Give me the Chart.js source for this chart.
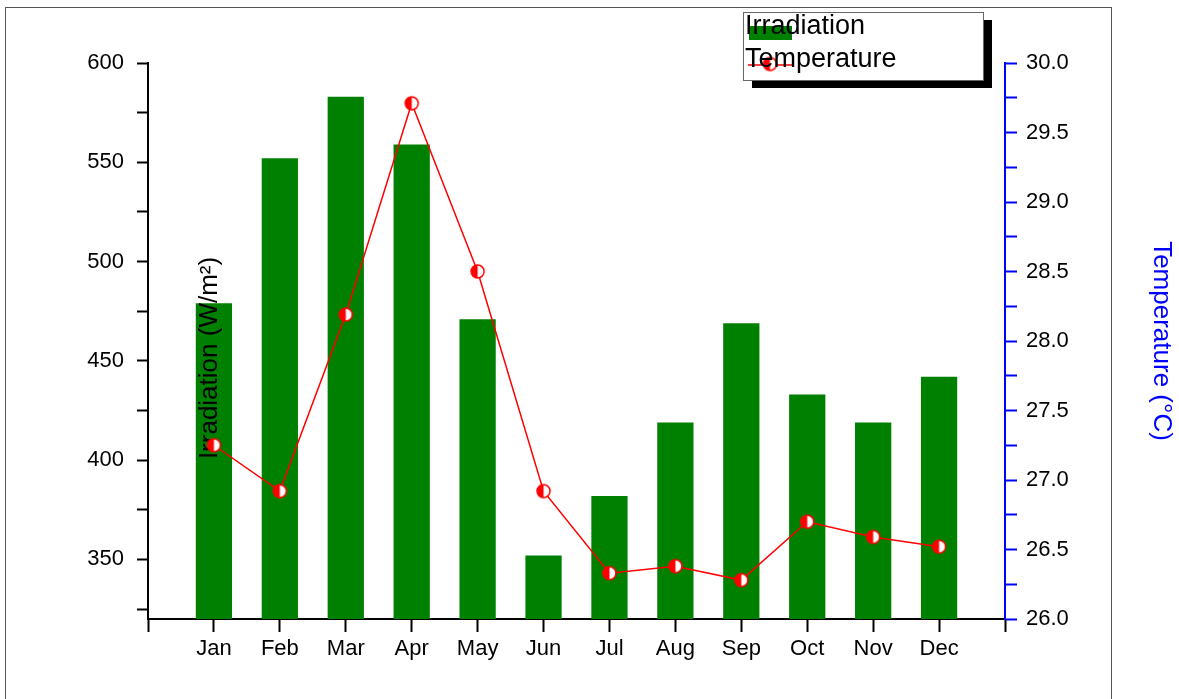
<!DOCTYPE html>
<html>
<head>
<meta charset="utf-8">
<script src="https://cdn.jsdelivr.net/npm/chart.js"></script>
<style>
  body { margin: 0; background: #fff; overflow: hidden; }
</style>
</head>
<body>
<canvas id="climateChart" width="1179" height="699"></canvas>
<script>
const months = ['Jan', 'Feb', 'Mar', 'Apr', 'May', 'Jun', 'Jul', 'Aug', 'Sep', 'Oct', 'Nov', 'Dec'];
const irradiation = [479, 552, 583, 559, 471, 352, 382, 419, 469, 433, 419, 442];
const temperature = [27.25, 26.92, 28.19, 29.71, 28.50, 26.92, 26.33, 26.38, 26.28, 26.70, 26.59, 26.52];
const irradiationTicks = [325, 350, 375, 400, 425, 450, 475, 500, 525, 550, 575, 600];
const temperatureTicks = [26.0, 26.25, 26.5, 26.75, 27.0, 27.25, 27.5, 27.75, 28.0, 28.25, 28.5, 28.75, 29.0, 29.25, 29.5, 29.75, 30.0];

const barColor = '#008000';
const lineColor = '#ff0000';
const fontFamily = '"Liberation Sans", Arial, sans-serif';

// half filled circle, like the Origin marker
function halfCircle(r) {
    const c = document.createElement('canvas');
    const s = Math.ceil(r * 2 + 4);
    c.width = s; c.height = s;
    const g = c.getContext('2d');
    const m = s / 2;
    g.fillStyle = '#fff';
    g.beginPath(); g.arc(m, m, r, 0, 2 * Math.PI); g.fill();
    g.fillStyle = lineColor;
    g.beginPath(); g.arc(m, m, r, Math.PI / 2, 3 * Math.PI / 2); g.closePath(); g.fill();
    g.strokeStyle = lineColor; g.lineWidth = 1.5;
    g.beginPath(); g.arc(m, m, r, 0, 2 * Math.PI); g.stroke();
    return c;
}
const marker = halfCircle(6.5);

// empty slot at both ends of the x axis
const xLabels = [''].concat(months, ['']);
const pad = arr => [null].concat(arr, [null]);

const framePlugin = {
    id: 'frame',
    beforeDraw(chart) {
        const ctx = chart.ctx;
        ctx.save();
        ctx.strokeStyle = '#555';
        ctx.lineWidth = 1;
        ctx.strokeRect(5.5, 7.5, 1106, 720);
        ctx.restore();
    }
};

// y title sits inside the plot, over the bars but under the line
const leftTitlePlugin = {
    id: 'leftTitle',
    afterDatasetDraw(chart, args) {
        if (chart.data.datasets[args.index].type !== 'bar') return;
        const { ctx, chartArea } = chart;
        ctx.save();
        ctx.translate(chartArea.left + 62, (chartArea.top + chartArea.bottom) / 2 + 17);
        ctx.rotate(-Math.PI / 2);
        ctx.textAlign = 'center';
        ctx.textBaseline = 'middle';
        ctx.font = '26px ' + fontFamily;
        ctx.fillStyle = '#000';
        ctx.fillText('Irradiation (W/m²)', 0, 0);
        ctx.restore();
    }
};

const legendPlugin = {
    id: 'boxLegend',
    afterDraw(chart) {
        const { ctx, chartArea } = chart;
        const w = 240, h = 68;
        const x = chartArea.right - 262, y = 12;
        const sets = chart.data.datasets;
        ctx.save();
        ctx.fillStyle = '#000';
        ctx.fillRect(x + 9, y + 8, w, h);
        ctx.fillStyle = '#fff';
        ctx.fillRect(x, y, w, h);
        ctx.strokeStyle = '#666';
        ctx.lineWidth = 1;
        ctx.strokeRect(x + 0.5, y + 0.5, w, h);

        ctx.fillStyle = sets[0].backgroundColor;
        ctx.fillRect(x + 6, y + 14, 43, 14);
        ctx.strokeStyle = sets[1].borderColor;
        ctx.lineWidth = 1.5;
        ctx.beginPath();
        ctx.moveTo(x + 5, y + 53);
        ctx.lineTo(x + 50, y + 53);
        ctx.stroke();
        ctx.drawImage(marker, x + 27 - marker.width / 2, y + 52 - marker.height / 2);

        ctx.fillStyle = '#000';
        ctx.font = '27px ' + fontFamily;
        ctx.textBaseline = 'alphabetic';
        ctx.fillText(sets[0].label, x + 2, y + 22);
        ctx.fillText(sets[1].label, x + 2, y + 55);
        ctx.restore();
    }
};

const climateCtx = document.getElementById('climateChart').getContext('2d');
const climateChart = new Chart(climateCtx, {
    data: {
        labels: xLabels,
        datasets: [{
            type: 'bar',
            label: 'Irradiation',
            data: pad(irradiation),
            backgroundColor: barColor,
            yAxisID: 'y',
            barPercentage: 0.55,
            categoryPercentage: 1,
            order: 2
        }, {
            type: 'line',
            label: 'Temperature',
            data: pad(temperature),
            borderColor: lineColor,
            borderWidth: 1.5,
            tension: 0,
            pointStyle: marker,
            yAxisID: 'y1',
            order: 1
        }]
    },
    options: {
        responsive: false,
        animation: false,
        layout: { padding: { top: 63, left: 0, right: 0, bottom: 0 } },
        plugins: {
            legend: { display: false },
            tooltip: { enabled: false }
        },
        scales: {
            x: {
                offset: false,
                border: { color: '#000', width: 2 },
                grid: { offset: false, drawOnChartArea: false, tickLength: 13, tickColor: '#000', tickWidth: 2 },
                ticks: {
                    color: '#000', font: { family: fontFamily, size: 22 },
                    padding: 4, maxRotation: 0, autoSkip: false
                },
                afterFit(scale) { scale.height = 80; }
            },
            y: {
                position: 'left',
                min: 320,
                max: 600,
                border: { color: '#000', width: 2 },
                grid: { drawOnChartArea: false, tickLength: 11, tickColor: '#000', tickWidth: 2 },
                ticks: {
                    color: '#000', font: { family: fontFamily, size: 22 }, padding: 13,
                    callback: v => (v % 50 === 0 ? v : '')
                },
                afterBuildTicks(scale) { scale.ticks = irradiationTicks.map(v => ({ value: v })); },
                afterFit(scale) { scale.width = 148; }
            },
            y1: {
                position: 'right',
                min: 26,
                max: 30,
                border: { color: '#0000ff', width: 2 },
                grid: { drawOnChartArea: false, tickLength: 12, tickColor: '#0000ff', tickWidth: 2 },
                ticks: {
                    color: '#000', font: { family: fontFamily, size: 22 }, padding: 9,
                    callback: v => (Math.abs(v * 2 - Math.round(v * 2)) < 1e-9 ? v.toFixed(1) : '')
                },
                title: {
                    display: true,
                    text: 'Temperature (°C)',
                    color: '#0000ff',
                    font: { family: fontFamily, size: 26, lineHeight: 1.2 },
                    padding: { top: 2, bottom: 0 }
                },
                afterBuildTicks(scale) { scale.ticks = temperatureTicks.map(v => ({ value: v })); },
                afterFit(scale) { scale.width = 174; }
            }
        }
    },
    plugins: [framePlugin, leftTitlePlugin, legendPlugin]
});
</script>
</body>
</html>
